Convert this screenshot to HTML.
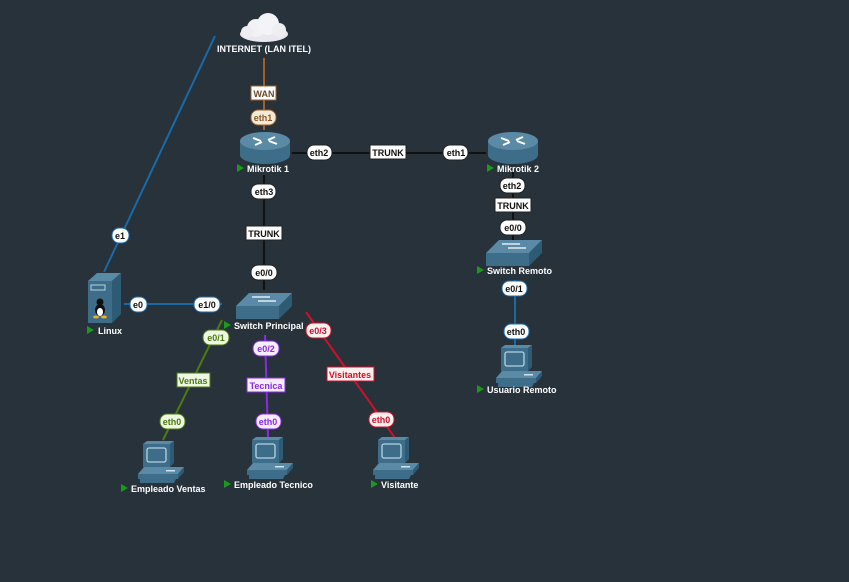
<!DOCTYPE html>
<html><head><meta charset="utf-8"><style>
html,body{margin:0;padding:0;background:#28323b;}
svg{display:block}
text{font-family:"Liberation Sans",sans-serif;font-weight:bold;font-size:9px;}
</style></head><body>
<svg width="849" height="582" viewBox="0 0 849 582" xmlns="http://www.w3.org/2000/svg">
<defs>
<g id="router">
  <path d="M-25,-6 L-25,8 A25,9 0 0 0 25,8 L25,-6 Z" fill="#3d6d88"/>
  <ellipse cx="0" cy="-6" rx="25" ry="9" fill="#5a8aa6"/>
  <path d="M-12,-9 l8,3 M12,-3 l-8,-3 M-10,-2 l7,-3 M10,-10 l-7,3" stroke="#fff" stroke-width="2"/>
</g>
<g id="switch">
  <polygon points="-28,0 -15,-13 28,-13 15,0" fill="#5a8aa6"/>
  <polygon points="-28,0 15,0 15,13 -28,13" fill="#3d6d88"/>
  <polygon points="15,0 28,-13 28,0 15,13" fill="#2f5a73"/>
  <path d="M-12,-9 h18 M-6,-5 h18" stroke="#fff" stroke-width="1.3"/>
</g>
<g id="pc">
  <polygon points="0,3 4,0 31,0 27,3" fill="#5a8aa6"/>
  <rect x="0" y="3" width="27" height="23" fill="#3d6d88"/>
  <polygon points="27,3 31,0 31,22 27,26" fill="#2f5a73"/>
  <rect x="4" y="7" width="19" height="14" rx="2" fill="#3d6d88" stroke="#b6d3e3" stroke-width="1.3"/>
  <polygon points="-5,33 1,26 41,26 35,33" fill="#5a8aa6"/>
  <rect x="-5" y="33" width="40" height="5" fill="#3d6d88"/>
  <polygon points="35,33 41,26 41,31 35,38" fill="#2f5a73"/>
  <rect x="23" y="29" width="9" height="1.5" fill="#cfe3ee"/>
  <polygon points="-3,38 33,38 31,42 -3,42" fill="#3d6d88"/>
</g>
</defs>

<line x1="215" y1="36" x2="104" y2="272" stroke="#1a6aa8" stroke-width="2"/>
<line x1="264" y1="58" x2="264" y2="130" stroke="#a0602a" stroke-width="2"/>
<line x1="292" y1="153" x2="486" y2="153" stroke="#111" stroke-width="2"/>
<line x1="513" y1="172" x2="513" y2="240" stroke="#111" stroke-width="2"/>
<line x1="515" y1="280" x2="515" y2="345" stroke="#1a6aa8" stroke-width="2"/>
<line x1="264" y1="175" x2="264" y2="290" stroke="#111" stroke-width="2"/>
<line x1="124" y1="304" x2="222" y2="304" stroke="#1a6aa8" stroke-width="2"/>
<line x1="222" y1="320" x2="163" y2="440" stroke="#4d7a12" stroke-width="2"/>
<line x1="265" y1="335" x2="268" y2="438" stroke="#8a2be2" stroke-width="2"/>
<line x1="306" y1="312" x2="395" y2="438" stroke="#d0102a" stroke-width="2"/>

<g>
  <ellipse cx="264" cy="34" rx="24" ry="8" fill="#e8e8ee"/>
  <circle cx="256" cy="28" r="9" fill="#f2f2f6"/>
  <circle cx="268" cy="24" r="11" fill="#f4f4f8"/>
  <circle cx="279" cy="30" r="7" fill="#eeeef2"/>
  <circle cx="247" cy="32" r="6" fill="#eeeef2"/>
</g>
<text x="264" y="52" text-anchor="middle" fill="#fff">INTERNET (LAN ITEL)</text>

<use href="#router" x="265" y="147"/>
<use href="#router" x="513" y="147"/>
<use href="#switch" x="264" y="306"/>
<use href="#switch" x="514" y="253"/>
<use href="#pc" x="143" y="441"/>
<use href="#pc" x="252" y="437"/>
<use href="#pc" x="378" y="437"/>
<use href="#pc" x="501" y="345"/>

<g>
  <polygon points="88,281 97,273 121,273 112,281" fill="#5a8aa6"/>
  <rect x="88" y="281" width="24" height="42" fill="#3d6d88"/>
  <polygon points="112,281 121,273 121,314 112,323" fill="#2f5a73"/>
  <rect x="91" y="285" width="14" height="5" fill="#3d6d88" stroke="#b6d3e3" stroke-width="1"/>
  <ellipse cx="100" cy="310" rx="5" ry="6" fill="#111"/>
  <ellipse cx="100" cy="312" rx="3" ry="4" fill="#fff"/>
  <circle cx="100" cy="302" r="3.5" fill="#111"/>
  <ellipse cx="96" cy="317" rx="3" ry="1.5" fill="#f0b020"/>
  <ellipse cx="104" cy="317" rx="3" ry="1.5" fill="#f0b020"/>
</g>

<g fill="#fff">
  <polygon points="237,164 237,172 244,168" fill="#1a9a1a"/><text x="247" y="172">Mikrotik 1</text>
  <polygon points="487,164 487,172 494,168" fill="#1a9a1a"/><text x="497" y="172">Mikrotik 2</text>
  <polygon points="477,266 477,274 484,270" fill="#1a9a1a"/><text x="487" y="274">Switch Remoto</text>
  <polygon points="477,385 477,393 484,389" fill="#1a9a1a"/><text x="487" y="393">Usuario Remoto</text>
  <polygon points="224,321 224,329 231,325" fill="#1a9a1a"/><text x="234" y="329">Switch Principal</text>
  <polygon points="87,326 87,334 94,330" fill="#1a9a1a"/><text x="98" y="334">Linux</text>
  <polygon points="121,484 121,492 128,488" fill="#1a9a1a"/><text x="131" y="492">Empleado Ventas</text>
  <polygon points="224,480 224,488 231,484" fill="#1a9a1a"/><text x="234" y="488">Empleado Tecnico</text>
  <polygon points="371,480 371,488 378,484" fill="#1a9a1a"/><text x="381" y="488">Visitante</text>
</g>

<g text-anchor="middle">
  <rect x="251" y="110" width="25" height="15" rx="7" fill="#f4ead8" stroke="#a0602a"/><text x="263" y="121" fill="#8a5a2a">eth1</text>
  <rect x="251" y="86" width="25" height="14" fill="#fff" stroke="#a0602a"/><text x="264" y="97" fill="#6a4a2a">WAN</text>
  <rect x="307" y="145" width="25" height="15" rx="7" fill="#fff" stroke="#222"/><text x="319" y="156" fill="#111">eth2</text>
  <rect x="370" y="145" width="36" height="14" fill="#fff" stroke="#222"/><text x="388" y="156" fill="#111">TRUNK</text>
  <rect x="443" y="145" width="25" height="15" rx="7" fill="#fff" stroke="#222"/><text x="456" y="156" fill="#111">eth1</text>
  <rect x="500" y="178" width="25" height="15" rx="7" fill="#fff" stroke="#222"/><text x="512" y="189" fill="#111">eth2</text>
  <rect x="495" y="198" width="36" height="14" fill="#fff" stroke="#222"/><text x="513" y="209" fill="#111">TRUNK</text>
  <rect x="500" y="220" width="26" height="15" rx="7" fill="#fff" stroke="#222"/><text x="513" y="231" fill="#111">e0/0</text>
  <rect x="502" y="281" width="25" height="15" rx="7" fill="#fff" stroke="#1a6aa8"/><text x="514" y="292" fill="#111">e0/1</text>
  <rect x="504" y="324" width="25" height="15" rx="7" fill="#fff" stroke="#1a6aa8"/><text x="516" y="335" fill="#111">eth0</text>
  <rect x="251" y="184" width="25" height="15" rx="7" fill="#fff" stroke="#222"/><text x="264" y="195" fill="#111">eth3</text>
  <rect x="246" y="226" width="36" height="14" fill="#fff" stroke="#222"/><text x="264" y="237" fill="#111">TRUNK</text>
  <rect x="251" y="265" width="26" height="15" rx="7" fill="#fff" stroke="#222"/><text x="264" y="276" fill="#111">e0/0</text>
  <rect x="130" y="297" width="17" height="15" rx="7" fill="#fff" stroke="#1a6aa8"/><text x="138" y="308" fill="#111">e0</text>
  <rect x="194" y="297" width="26" height="15" rx="7" fill="#fff" stroke="#1a6aa8"/><text x="207" y="308" fill="#111">e1/0</text>
  <rect x="112" y="228" width="17" height="15" rx="7" fill="#fff" stroke="#1a6aa8"/><text x="120" y="239" fill="#111">e1</text>
  <rect x="203" y="330" width="26" height="15" rx="7" fill="#eef6e4" stroke="#4d7a12"/><text x="216" y="341" fill="#4d7a12">e0/1</text>
  <rect x="177" y="373" width="33" height="14" fill="#eef6e4" stroke="#4d7a12"/><text x="193" y="384" fill="#4d7a12">Ventas</text>
  <rect x="160" y="414" width="25" height="15" rx="7" fill="#eef6e4" stroke="#4d7a12"/><text x="172" y="425" fill="#4d7a12">eth0</text>
  <rect x="253" y="341" width="26" height="15" rx="7" fill="#f4ecff" stroke="#8a2be2"/><text x="266" y="352" fill="#8a2be2">e0/2</text>
  <rect x="247" y="378" width="38" height="14" fill="#f4ecff" stroke="#8a2be2"/><text x="266" y="389" fill="#8a2be2">Tecnica</text>
  <rect x="256" y="414" width="25" height="15" rx="7" fill="#f4ecff" stroke="#8a2be2"/><text x="268" y="425" fill="#8a2be2">eth0</text>
  <rect x="306" y="323" width="25" height="15" rx="7" fill="#fff0f0" stroke="#d0102a"/><text x="318" y="334" fill="#d0102a">e0/3</text>
  <rect x="327" y="367" width="47" height="14" fill="#fff0f0" stroke="#d0102a"/><text x="350" y="378" fill="#d0102a">Visitantes</text>
  <rect x="369" y="412" width="25" height="15" rx="7" fill="#fff0f0" stroke="#d0102a"/><text x="381" y="423" fill="#d0102a">eth0</text>
</g>
</svg>
</body></html>
